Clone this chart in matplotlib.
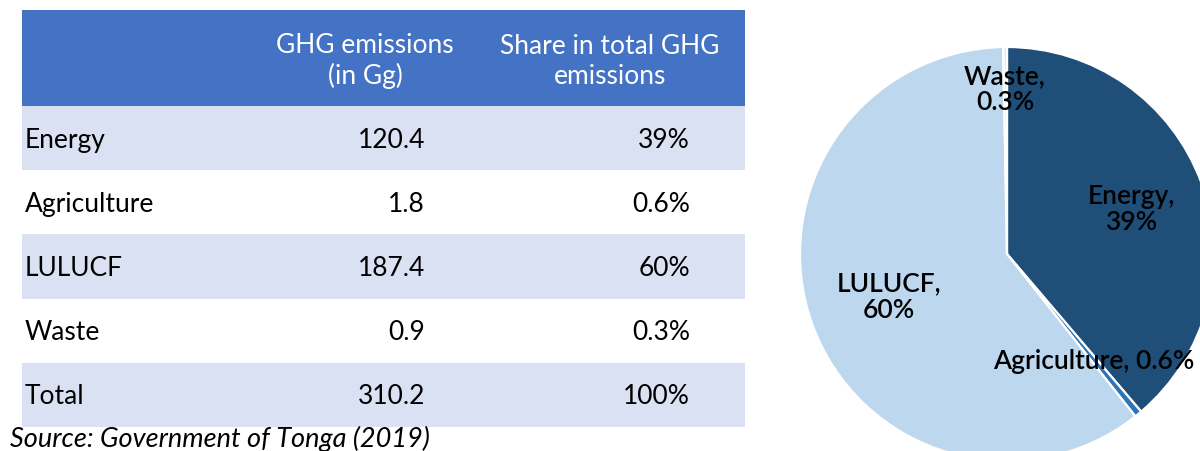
import matplotlib
matplotlib.use("Agg")
import matplotlib.pyplot as plt
from matplotlib.patches import Rectangle

# ---- data ----
sectors = ["Energy", "Agriculture", "LULUCF", "Waste"]
emissions = [120.4, 1.8, 187.4, 0.9]
table_rows = ["Energy", "Agriculture", "LULUCF", "Waste", "Total"]
table_emissions = ["120.4", "1.8", "187.4", "0.9", "310.2"]
table_shares = ["39%", "0.6%", "60%", "0.3%", "100%"]
header_cols = ["GHG emissions\n(in Gg)", "Share in total GHG\nemissions"]
pie_labels = ["Energy,\n39%", "Agriculture, 0.6%", "LULUCF,\n60%", "Waste,\n0.3%"]
source = "Source: Government of Tonga (2019)"

# ---- style ----
W, H = 1200, 452
FONT = "Lato"
header_color = "#4472C4"
band_color = "#D9E1F2"
pie_colors = ["#1F4E79", "#2E75B6", "#BDD7EE", "#DEEBF7"]

fig = plt.figure(figsize=(W / 100, H / 100), dpi=100)
fig.patch.set_facecolor("white")

# ---- table (pixel coordinates) ----
ax = fig.add_axes([0, 0, 1, 1])
ax.set_xlim(0, W)
ax.set_ylim(H, 0)
ax.axis("off")

tx0, tx1 = 22, 745
head_top, head_bot = 11, 107
row_h = 64.2
FS = 19
ax.add_patch(Rectangle((tx0, head_top), tx1 - tx0, head_bot - head_top,
                       facecolor=header_color, edgecolor="none"))
for x, txt in zip([365, 610], header_cols):
    ax.text(x, (head_top + head_bot) / 2 + 2, txt, ha="center", va="center",
            color="white", fontsize=FS, family=FONT, linespacing=1.25)

for i, (lab, em, sh) in enumerate(zip(table_rows, table_emissions, table_shares)):
    top = head_bot + i * row_h
    if i % 2 == 0:
        ax.add_patch(Rectangle((tx0, top), tx1 - tx0, row_h,
                               facecolor=band_color, edgecolor="none"))
    yc = top + row_h / 2 + 1
    ax.text(25, yc, lab, ha="left", va="center", fontsize=FS, family=FONT, color="black")
    ax.text(425, yc, em, ha="right", va="center", fontsize=FS, family=FONT, color="black")
    ax.text(690, yc, sh, ha="right", va="center", fontsize=FS, family=FONT, color="black")

ax.text(10, 439, source, ha="left", va="center", fontsize=19.5, family=FONT,
        style="italic", color="black")

# ---- pie ----
pax = fig.add_axes([780 / W, 0, 420 / W, 1])
cx, cy, r = 1007, 255, 207
pax.pie(emissions, colors=pie_colors, startangle=90, counterclock=False,
        wedgeprops=dict(edgecolor="white", linewidth=1.6))
pax.set_aspect("auto")
pax.set_xlim((780 - cx) / r, (1200 - cx) / r)
pax.set_ylim(-(H - cy) / r, cy / r)
pax.axis("off")

label_px = [(1131, 210), (1094, 362), (889, 297), (1005, 90)]
for lab, (px, py) in zip(pie_labels, label_px):
    pax.text((px - cx) / r, (cy - py) / r, lab, ha="center", va="center",
             fontsize=19, family=FONT, fontweight="semibold", color="black",
             linespacing=1.05)

fig.savefig("out.png", dpi=100)
